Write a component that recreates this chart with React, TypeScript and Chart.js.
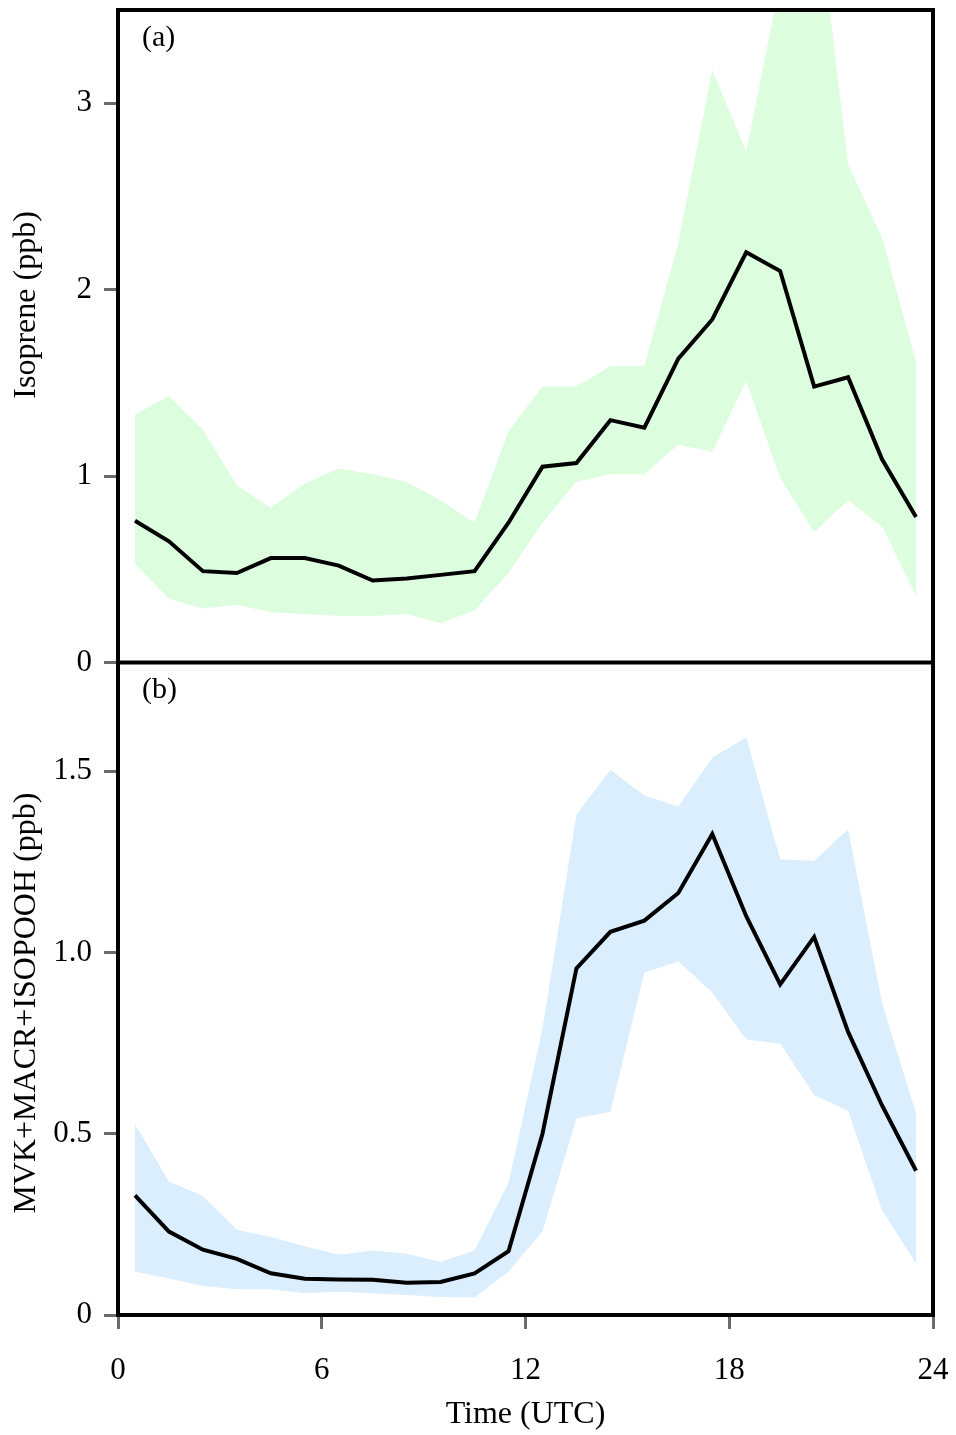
import React, { useEffect, useRef } from 'react';
import { Chart, registerables } from 'chart.js';

Chart.register(...registerables);

// ---- data ----
const hours = [0.5, 1.5, 2.5, 3.5, 4.5, 5.5, 6.5, 7.5, 8.5, 9.5, 10.5, 11.5, 12.5, 13.5, 14.5, 15.5, 16.5, 17.5, 18.5, 19.5, 20.5, 21.5, 22.5, 23.5];

const isopreneMean = [0.76, 0.65, 0.49, 0.48, 0.56, 0.56, 0.52, 0.44, 0.45, 0.47, 0.49, 0.75, 1.05, 1.07, 1.30, 1.26, 1.63, 1.84, 2.20, 2.10, 1.48, 1.53, 1.09, 0.78];
const isopreneUpper = [1.33, 1.43, 1.25, 0.95, 0.83, 0.96, 1.04, 1.01, 0.97, 0.87, 0.75, 1.24, 1.48, 1.48, 1.59, 1.59, 2.25, 3.18, 2.74, 3.65, 4.2, 2.67, 2.28, 1.61];
const isopreneLower = [0.53, 0.34, 0.29, 0.31, 0.27, 0.26, 0.25, 0.25, 0.26, 0.21, 0.28, 0.48, 0.75, 0.97, 1.01, 1.01, 1.17, 1.13, 1.51, 0.99, 0.70, 0.87, 0.73, 0.36];

const mvkMean = [0.33, 0.23, 0.18, 0.155, 0.115, 0.10, 0.098, 0.097, 0.089, 0.091, 0.115, 0.176, 0.50, 0.956, 1.057, 1.088, 1.164, 1.327, 1.10, 0.912, 1.043, 0.781, 0.578, 0.398];
const mvkUpper = [0.526, 0.368, 0.328, 0.235, 0.215, 0.19, 0.166, 0.178, 0.169, 0.146, 0.178, 0.365, 0.79, 1.381, 1.504, 1.433, 1.403, 1.537, 1.593, 1.257, 1.253, 1.34, 0.861, 0.556];
const mvkLower = [0.119, 0.101, 0.08, 0.071, 0.071, 0.06, 0.064, 0.06, 0.055, 0.05, 0.048, 0.12, 0.231, 0.542, 0.561, 0.945, 0.975, 0.89, 0.76, 0.749, 0.607, 0.563, 0.289, 0.142];

const xTicks = [0, 6, 12, 18, 24];
const xTickLabels = ['0', '6', '12', '18', '24'];
const isopreneTicks = [0, 1, 2, 3];
const isopreneTickLabels = ['0', '1', '2', '3'];
const mvkTicks = [0, 0.5, 1.0, 1.5];
const mvkTickLabels = ['0', '0.5', '1.0', '1.5'];
const isopreneRange = [0, 3.5];
const mvkRange = [0, 1.8];

const xTitle = 'Time (UTC)';
const isopreneTitle = 'Isoprene (ppb)';
const mvkTitle = 'MVK+MACR+ISOPOOH (ppb)';
const panelLabels = ['(a)', '(b)'];

// ---- styles ----
const SERIF = "'Liberation Serif', 'Times New Roman', serif";
const GREEN = '#ddfddf';
const BLUE = '#dbeefd';
const TICK_GRAY = '#6b6b6b';

const pts = (ys: number[]) => hours.map((h, i) => ({ x: h, y: ys[i] }));

const overlayPlugin = {
  id: 'overlay',
  afterDraw(chart: any) {
    const { ctx, chartArea } = chart;
    const ya = chart.scales.ya;
    const yb = chart.scales.yb;
    ctx.save();
    ctx.strokeStyle = '#000';
    ctx.lineWidth = 4;
    ctx.strokeRect(chartArea.left, chartArea.top, chartArea.right - chartArea.left, chartArea.bottom - chartArea.top);
    ctx.beginPath();
    ctx.moveTo(chartArea.left, ya.bottom);
    ctx.lineTo(chartArea.right, ya.bottom);
    ctx.stroke();

    ctx.fillStyle = '#000';
    ctx.font = `30px ${SERIF}`;
    ctx.textAlign = 'left';
    ctx.textBaseline = 'middle';
    ctx.fillText(panelLabels[0], chartArea.left + 24, ya.top + 28);
    ctx.fillText(panelLabels[1], chartArea.left + 24, yb.top + 28);

    ctx.font = `32px ${SERIF}`;
    ctx.textAlign = 'center';
    const titles: [any, string, number][] = [
      [ya, isopreneTitle, 0.452],
      [yb, mvkTitle, 0.522],
    ];
    for (const [s, t, f] of titles) {
      ctx.save();
      ctx.translate(19, s.top + (s.bottom - s.top) * f);
      ctx.rotate(-Math.PI / 2);
      ctx.fillText(t, 0, 0);
      ctx.restore();
    }
    ctx.restore();
  },
};

export default function App() {
  const ref = useRef<HTMLCanvasElement | null>(null);

  useEffect(() => {
    document.documentElement.style.overflow = 'hidden';
    const canvas = ref.current;
    if (!canvas) return;

    const yCommon = (ticks: number[], labels: string[], range: number[]) => ({
      type: 'linear' as const,
      position: 'left' as const,
      stack: 'panels',
      stackWeight: 1,
      min: range[0],
      max: range[1],
      afterBuildTicks: (scale: any) => {
        scale.ticks = ticks.map((v) => ({ value: v }));
      },
      afterFit: (scale: any) => {
        scale.width = 110;
        scale.paddingTop = 0;
        scale.paddingBottom = 0;
      },
      ticks: {
        color: '#000',
        padding: 12,
        font: { family: SERIF, size: 31 },
        callback: (v: any) => {
          const i = ticks.indexOf(Number(v));
          return i >= 0 ? labels[i] : '';
        },
      },
      grid: {
        drawOnChartArea: false,
        drawTicks: true,
        tickLength: 14,
        tickWidth: 3,
        tickColor: TICK_GRAY,
      },
      border: { display: true, color: '#000', width: 4 },
      title: { display: false },
    });

    const chart = new Chart(canvas, {
      type: 'line',
      data: {
        datasets: [
          {
            label: 'Isoprene',
            data: pts(isopreneMean),
            yAxisID: 'ya',
            borderColor: '#000',
            borderWidth: 4,
            pointRadius: 0,
            fill: false,
            tension: 0,
          },
          {
            label: 'MVK',
            data: pts(mvkMean),
            yAxisID: 'yb',
            borderColor: '#000',
            borderWidth: 4,
            pointRadius: 0,
            fill: false,
            tension: 0,
          },
          {
            label: 'Isoprene upper',
            data: pts(isopreneUpper),
            yAxisID: 'ya',
            borderWidth: 0,
            borderColor: 'rgba(0,0,0,0)',
            backgroundColor: GREEN,
            pointRadius: 0,
            fill: '+1',
            tension: 0,
          },
          {
            label: 'Isoprene lower',
            data: pts(isopreneLower),
            yAxisID: 'ya',
            borderWidth: 0,
            borderColor: 'rgba(0,0,0,0)',
            pointRadius: 0,
            fill: false,
            tension: 0,
          },
          {
            label: 'MVK upper',
            data: pts(mvkUpper),
            yAxisID: 'yb',
            borderWidth: 0,
            borderColor: 'rgba(0,0,0,0)',
            backgroundColor: BLUE,
            pointRadius: 0,
            fill: '+1',
            tension: 0,
          },
          {
            label: 'MVK lower',
            data: pts(mvkLower),
            yAxisID: 'yb',
            borderWidth: 0,
            borderColor: 'rgba(0,0,0,0)',
            pointRadius: 0,
            fill: false,
            tension: 0,
          },
        ],
      },
      options: {
        animation: false,
        responsive: true,
        maintainAspectRatio: false,
        layout: { padding: { top: 2, right: 15, left: 0, bottom: 0 } },
        plugins: {
          legend: { display: false },
          tooltip: { enabled: false },
        },
        scales: {
          x: {
            type: 'linear',
            position: 'bottom',
            min: 0,
            max: 24,
            afterBuildTicks: (scale: any) => {
              scale.ticks = xTicks.map((v) => ({ value: v }));
            },
            afterFit: (scale: any) => {
              scale.height = 120;
              scale.paddingLeft = 0;
              scale.paddingRight = 0;
            },
            ticks: {
              color: '#000',
              padding: 23,
              maxRotation: 0,
              font: { family: SERIF, size: 31 },
              callback: (v: any) => {
                const i = xTicks.indexOf(Number(v));
                return i >= 0 ? xTickLabels[i] : '';
              },
            },
            grid: {
              drawOnChartArea: false,
              drawTicks: true,
              tickLength: 14,
              tickWidth: 3,
              tickColor: TICK_GRAY,
            },
            border: { display: true, color: '#000', width: 4 },
            title: {
              display: true,
              text: xTitle,
              color: '#000',
              font: { family: SERIF, size: 32 },
              padding: { top: 0, bottom: 1 },
            },
          },
          yb: yCommon(mvkTicks, mvkTickLabels, mvkRange),
          ya: yCommon(isopreneTicks, isopreneTickLabels, isopreneRange),
        },
      },
      plugins: [overlayPlugin],
    } as any);

    return () => chart.destroy();
  }, []);

  return (
    <div style={{ width: 940, height: 1427, position: 'relative' }}>
      <canvas ref={ref} />
    </div>
  );
}
